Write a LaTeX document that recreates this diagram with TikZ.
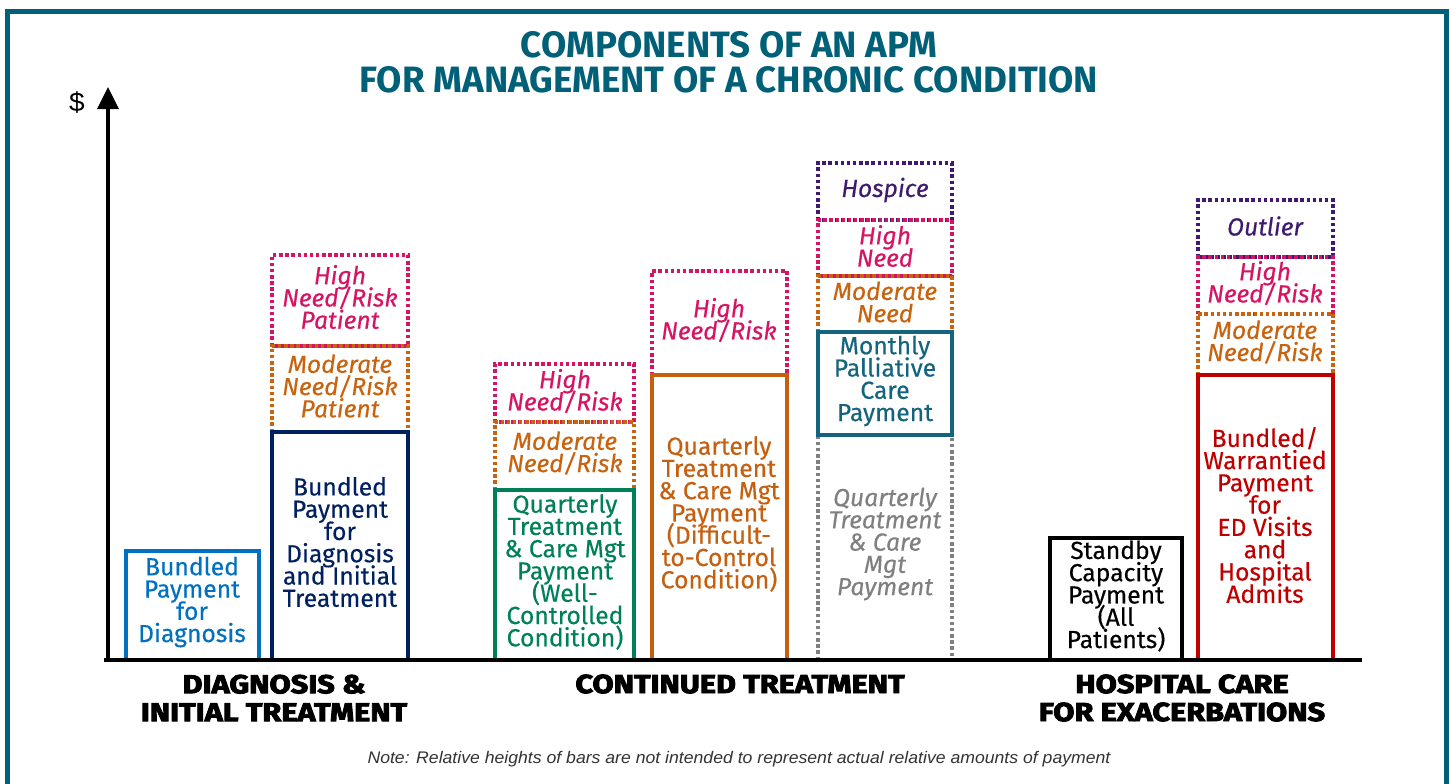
\documentclass[tikz,border=0pt]{standalone}
\usepackage{fontspec}
\setmainfont{Fira Sans}[UprightFeatures={FakeBold=0.35},ItalicFeatures={FakeBold=0.35}]
\newfontfamily\titlef{Fira Sans}
\newfontfamily\catf{Fira Sans}[FakeStretch=1.18,BoldFeatures={FakeBold=3.5}]
\newfontfamily\notef{Liberation Sans}[FakeStretch=1.05]
\usetikzlibrary{arrows.meta}
\newcommand\mytightls{\lineskiplimit=-20pt\relax\lineskip=0pt\relax}
\definecolor{teal1}{RGB}{0,96,120}
\definecolor{lblue}{RGB}{0,112,192}
\definecolor{navy}{RGB}{0,32,96}
\definecolor{hineed}{RGB}{214,20,100}
\definecolor{modneed}{RGB}{200,100,16}
\definecolor{grn}{RGB}{0,128,88}
\definecolor{orng}{RGB}{197,96,16}
\definecolor{purp}{RGB}{64,26,110}
\definecolor{gry}{RGB}{128,128,128}
\definecolor{redd}{RGB}{192,0,0}
\definecolor{palteal}{RGB}{20,100,125}
\definecolor{notec}{RGB}{50,50,50}
\begin{document}
\begin{tikzpicture}[x=0.75pt,y=-0.75pt,
  solidbox/.style={line width=3.3pt},
  dotbox/.style={line width=3pt,dash pattern=on 2.6pt off 2pt},
  lbl/.style={align=center,inner sep=0pt,font=\mytightls\fontsize{18.5pt}{16.7pt}\selectfont},
  ilbl/.style={lbl,font=\mytightls\fontsize{18.5pt}{16.7pt}\selectfont\itshape},
  cat/.style={align=center,inner sep=0pt,font=\catf\bfseries\fontsize{19.5pt}{21pt}\selectfont},
]
\useasboundingbox (0,0) rectangle (1450,783);
% frame
\draw[teal1,line width=3.75pt] (7.5,790) -- (7.5,11.5) -- (1446.5,11.5) -- (1446.5,790);
% title
\node[teal1,align=center,inner sep=0pt,font=\titlef\bfseries\fontsize{27.5pt}{26.5pt}\selectfont] (title) at (729,62) {COMPONENTS OF AN APM\\FOR MANAGEMENT OF A CHRONIC CONDITION};
% bar 1
\draw[solidbox,lblue] (126,660) rectangle (259,551);
\node[lbl,lblue] (b1) at (192,602) {Bundled\\Payment\\for\\Diagnosis};
% bar 2
\draw[dotbox,hineed] (272,346) rectangle (408,255);
\draw[dotbox,modneed] (272,432) rectangle (408,346);
\draw[solidbox,navy] (272,660) rectangle (408,432);
\node[ilbl,hineed] (b2h) at (340,297) {High\\Need/Risk\\Patient};
\node[ilbl,modneed] (b2m) at (340,386) {Moderate\\Need/Risk\\Patient};
\node[lbl,navy] (b2) at (340,542) {Bundled\\Payment\\for\\Diagnosis\\and Initial\\Treatment};
% bar 3
\draw[dotbox,hineed] (495,422) rectangle (634,364);
\draw[dotbox,modneed] (495,490) rectangle (634,422);
\draw[solidbox,grn] (495,660) rectangle (634,490);
\node[ilbl,hineed] (b3h) at (565,391) {High\\Need/Risk};
\node[ilbl,modneed] (b3m) at (565,453) {Moderate\\Need/Risk};
\node[lbl,grn] (b3) at (565,572) {Quarterly\\Treatment\\\& Care Mgt\\Payment\\(Well-\\Controlled\\Condition)};
% bar 4
\draw[dotbox,hineed] (652,375) rectangle (787,271);
\draw[solidbox,orng] (652,660) rectangle (787,375);
\node[ilbl,hineed] (b4h) at (719,320) {High\\Need/Risk};
\node[lbl,orng] (b4) at (719,514) {Quarterly\\Treatment\\\& Care Mgt\\Payment\\(Difficult-\\to-Control\\Condition)};
% bar 5
\draw[dotbox,gry] (818,660) rectangle (952,435);
\draw[dotbox,purp] (818,220) rectangle (952,163);
\draw[dotbox,hineed] (818,276) rectangle (952,220);
\draw[dotbox,modneed] (818,332) rectangle (952,276);
\draw[solidbox,palteal] (818,435) rectangle (952,332);
\node[ilbl,purp] (b5o) at (885,190) {Hospice};
\node[ilbl,hineed] (b5h) at (885,246) {High\\Need};
\node[ilbl,modneed] (b5m) at (885,302) {Moderate\\Need};
\node[lbl,palteal] (b5) at (885,381) {Monthly\\Palliative\\Care\\Payment};
\node[ilbl,gry] (b5g) at (885,544) {Quarterly\\Treatment\\\& Care\\Mgt\\Payment};
% bar 6
\draw[solidbox,black] (1050,660) rectangle (1182,538);
\node[lbl,black] (b6) at (1116,596) {Standby\\Capacity\\Payment\\(All\\Patients)};
% bar 7
\draw[dotbox,purp] (1198,257) rectangle (1333,200);
\draw[dotbox,hineed] (1198,314) rectangle (1333,257);
\draw[dotbox,modneed] (1198,375) rectangle (1333,314);
\draw[solidbox,redd] (1198,660) rectangle (1333,375);
\node[ilbl,purp] (b7o) at (1265,226) {Outlier};
\node[ilbl,hineed] (b7h) at (1265,283) {High\\Need/Risk};
\node[ilbl,modneed] (b7m) at (1265,342) {Moderate\\Need/Risk};
\node[lbl,redd] (b7) at (1265,515) {Bundled/\\Warrantied\\Payment\\for\\ED Visits\\and\\Hospital\\Admits};
% axes
\coordinate (o) at (108,661);
\coordinate (ytip) at (108,87);
\coordinate (xend) at (1362,660);
\coordinate (xstart) at (104,660);
\draw[line width=2.6pt,-{Triangle[width=15.75pt,length=16.5pt]}] (o) -- (ytip);
\draw[line width=3pt] (xstart) -- (xend);
\node[font=\notef\fontsize{20pt}{20pt}\selectfont,inner sep=0pt] (dollar) at (77,103) {\$};
% categories
\node[cat] (c1) at (274,698) {DIAGNOSIS \&\\INITIAL TREATMENT};
\node[cat] (c2) at (740,684) {CONTINUED TREATMENT};
\node[cat] (c3) at (1182,698) {HOSPITAL CARE\\FOR EXACERBATIONS};
% note
\node[notec,font=\notef\itshape\fontsize{12.6pt}{13pt}\selectfont,inner sep=0pt] (note) at (739,759) {Note: Relative heights of bars are not intended to represent actual relative amounts of payment};
\end{tikzpicture}
\end{document}
